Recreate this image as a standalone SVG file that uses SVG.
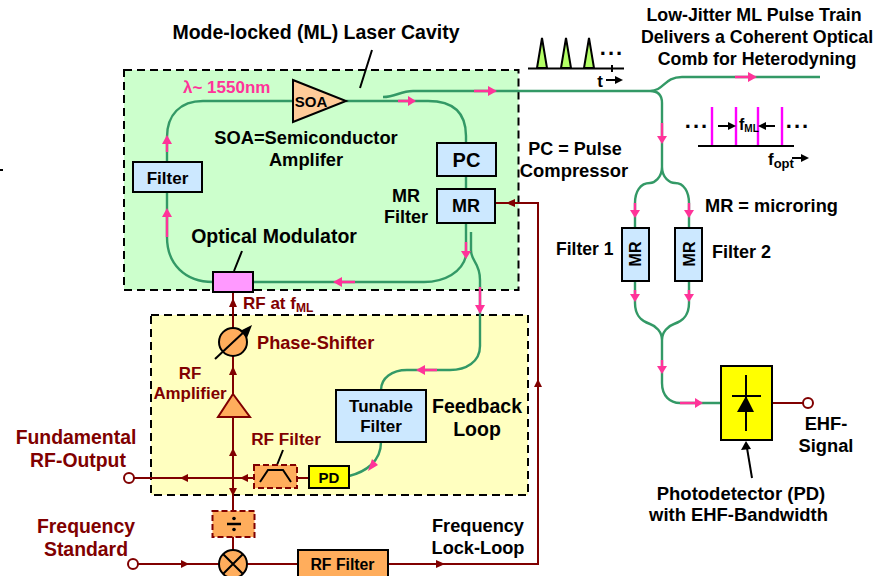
<svg xmlns="http://www.w3.org/2000/svg" width="877" height="576" viewBox="0 0 877 576">
<style>
text{font-family:"Liberation Sans",Arial,sans-serif;font-weight:bold;fill:#000}
.c{text-anchor:middle}
.r{fill:#800000}
.p{fill:#ff3399}
.fib{fill:none;stroke:#339966;stroke-width:2.4}
.rf{fill:none;stroke:#800000;stroke-width:2}
.pk{fill:none;stroke:#ff3399;stroke-width:2.4}
.pkh{fill:#ff3399}
.rfh{fill:#800000}
.blue{fill:#cce8ff;stroke:#000;stroke-width:2}
.or{fill:#ffad5c;stroke:#000;stroke-width:2}
.ordash{fill:#ffad5c;stroke:#800000;stroke-width:2;stroke-dasharray:6 3}
.bl{fill:none;stroke:#000;stroke-width:2}
.mg{stroke:#ff00ff;stroke-width:2.4}
</style>
<g id="backgrounds">
<rect id="cavity-box" x="124" y="70" width="394.500" height="220" fill="#ccffcc" stroke="#000" stroke-width="2" stroke-dasharray="8 5"/>
<rect id="feedback-box" x="151" y="315" width="377" height="180" fill="#ffffc0" stroke="#000" stroke-width="2" stroke-dasharray="8 5"/>
</g>
<g id="connectors">
<path class="fib" d="M167 162V137C167 115 180 101 203 101H293M346 101H428C452 101 466 112 466 136V143M466 176V189M466 223V256C462 272 445 282 424 282H253M213 282C185 282 167 264 167 237V192"/>
<path class="fib" d="M471 232V250C471 262 480 262 480 280V346C480 362 466 370 450 370H407C392 370 381 378 381 390M381 442C381 462 365 472 349 476"/>
<path class="fib" d="M383 97C396 97 400 91 413 91H650C664 91 664 77 682 77H820M650 91C658 91 662 95 662 103V167C662 178 654 183 650 183C640 183 635 192 635 203V228M662 167C662 178 670 183 675 183C684 183 689 192 689 203V228M635 281V303C635 318 644 322 650 324C656 326 662 332 662 340M689 281V303C689 318 680 322 674 324C668 326 662 332 662 340V383C662 396 670 403 680 403H721"/>
<g class="rf">
<path d="M233 272V328M233 356V394M233 417V511M233 537V550M134 478H254M297 478H309M138 564H219M247 564H298M388 564H538V203H495M772 403H803"/>
</g>
<g class="pk">
<path d="M398 101H412M474 91H490M735 77H750M662 123V138M635 203V212M689 203V212M635 290V297M689 290V297M662 360V368M680 403H697M167 152V141M167 237V214M355 282H339M466 242V252M480 287V308M437 370H422"/>
</g>
<g class="pkh">
<path d="M408 96L416 101L408 106ZM488 86L497 91L488 96ZM748 72L757 77L748 82ZM657 136L662 144L667 136ZM630 210L635 218L640 210ZM684 210L689 218L694 210ZM630 294L635 302L640 294ZM684 294L689 302L694 294ZM657 366L662 374L667 366ZM695 398L703 403L695 408ZM162 144L167 135L172 144ZM162 217L167 208L172 217ZM342 277L333 282L342 287ZM461 251L466 259L471 251ZM475 305L480 314L485 305ZM425 365L416 370L425 375ZM372 459L368 471L378 465Z"/>
</g>
<g class="rfh">
<path d="M229 307L233 298L237 307ZM229 375L233 366L237 375ZM229 456L233 448L237 456ZM229 488L233 496L237 488ZM188 474L180 478L188 482ZM248 474L240 478L248 482ZM181 560L189 564L181 568ZM436 560L445 564L436 568ZM534 387L538 379L542 387ZM515 199L506 203L515 207ZM748 399L756 403L748 407Z"/>
</g>
<path class="bl" d="M372 50L360 88M234 271L242 251M277 465L283 450"/>
<path class="bl" d="M752 478L747 448"/>
<path d="M741 450L746 441L751 449Z" fill="#000"/>
</g>
<g id="soa">
<path d="M293 80L346 101L293 122Z" fill="#ffcc99" stroke="#000" stroke-width="2"/>
<text x="311" y="107" class="c" font-size="15">SOA</text>
</g>
<g id="filter">
<rect class="blue" x="133" y="162" width="69" height="30"/>
<text x="167.500" y="184" class="c" font-size="17">Filter</text>
</g>
<g id="modulator">
<rect x="213" y="272" width="40" height="20" fill="#ff99ff" stroke="#000" stroke-width="2"/>
</g>
<g id="pc">
<rect class="blue" x="437" y="143" width="59" height="33"/>
<text x="466.500" y="167" class="c" font-size="20">PC</text>
</g>
<g id="mr">
<rect class="blue" x="437" y="189" width="58" height="34"/>
<text x="466" y="212" class="c" font-size="18">MR</text>
</g>
<g id="tunable-filter">
<rect class="blue" x="336" y="390" width="90" height="52"/>
<text x="381" y="412" class="c" font-size="17">Tunable</text>
<text x="381" y="432" class="c" font-size="17">Filter</text>
</g>
<g id="pd">
<rect x="309" y="466" width="40" height="22" fill="#ffff00" stroke="#000" stroke-width="2"/>
<text x="329" y="483" class="c" font-size="15">PD</text>
</g>
<g id="rf-filter-dashed">
<rect class="ordash" x="254" y="465" width="43" height="23"/>
<path class="bl" d="M260 482L268 470H283L291 482"/>
</g>
<g id="phase-shifter">
<circle class="or" cx="233" cy="342" r="14"/>
<path class="bl" d="M215 359L246 330"/>
<path d="M240 331L252 325L247 338Z" fill="#000"/>
</g>
<g id="rf-amplifier">
<path d="M233 394L250 417H218Z" fill="#ffad5c" stroke="#800000" stroke-width="2"/>
</g>
<g id="divider">
<rect class="ordash" x="212.500" y="511" width="42" height="26"/>
<path d="M227 524H241" stroke="#000" stroke-width="2.500"/>
<circle cx="234" cy="518.500" r="1.800"/>
<circle cx="234" cy="529.500" r="1.800"/>
</g>
<g id="mixer">
<circle class="or" cx="233" cy="564" r="14"/>
<path class="bl" d="M223 554L243 574M243 554L223 574"/>
</g>
<g id="rf-filter-bottom">
<rect class="or" x="298" y="550" width="90" height="30"/>
<text x="342.500" y="570" class="c" font-size="15.800">RF Filter</text>
</g>
<g id="mr1">
<rect class="blue" x="622" y="228" width="27" height="53"/>
<text transform="translate(641 254) rotate(-90)" class="c" font-size="16">MR</text>
</g>
<g id="mr2">
<rect class="blue" x="675" y="228" width="27" height="53"/>
<text transform="translate(695 254) rotate(-90)" class="c" font-size="16">MR</text>
</g>
<g id="photodetector">
<rect x="721" y="366" width="51" height="74" fill="#ffff00" stroke="#000" stroke-width="2"/>
<path class="bl" d="M746 375V431M732 396H761"/>
<path d="M746 396L754 412H737Z" fill="#000"/>
</g>
<g id="terminals" fill="#fff" stroke="#800000" stroke-width="2">
<circle cx="129" cy="478" r="5"/>
<circle cx="133" cy="564" r="5"/>
<circle cx="808" cy="403" r="5"/>
</g>
<g id="pulses">
<path d="M537 68L542 38L547 68ZM561 68L566 38L571 68ZM584 68L589 38L594 68Z" fill="#b3ff66" stroke="#000" stroke-width="2"/>
<path class="bl" d="M528 68.500H624M612 65V72"/>
<text x="612" y="55" class="c" font-size="22" letter-spacing="2">...</text>
<text x="600" y="87" class="c" font-size="17">t</text>
<path d="M606 80H617" stroke="#000" stroke-width="2"/>
<path d="M615 76L623 80L615 84Z"/>
</g>
<g id="comb">
<path class="mg" d="M712 107V146M736 107V146M758 107V146M782 107V146"/>
<path class="bl" d="M698 146H794"/>
<text x="697" y="128" class="c" font-size="22" letter-spacing="2">...</text>
<text x="798" y="128" class="c" font-size="22" letter-spacing="2">...</text>
<path d="M718 126H730M775 126H763" stroke="#000" stroke-width="2"/>
<path d="M728 122L736 126L728 130ZM766 122L758 126L766 130Z"/>
<text x="739" y="130" font-size="16">f<tspan font-size="10" dy="2">ML</tspan></text>
<text x="768" y="165" font-size="17">f<tspan font-size="13" dy="3">opt</tspan></text>
<path d="M792 158H803" stroke="#000" stroke-width="2"/>
<path d="M801 154L809 158L801 162Z"/>
</g>
<g id="labels">
<text x="316" y="39" class="c" font-size="19.500">Mode-locked (ML) Laser Cavity</text>
<text x="754" y="21" class="c" font-size="17.800">Low-Jitter ML Pulse Train</text>
<text x="757" y="43" class="c" font-size="17.800">Delivers a Coherent Optical</text>
<text x="757" y="65" class="c" font-size="17.800">Comb for Heterodyning</text>
<text x="183" y="93" class="p" font-size="17">λ~ 1550nm</text>
<text x="306" y="144" class="c" font-size="18.300">SOA=Semiconductor</text>
<text x="306" y="166" class="c" font-size="18.300">Amplifer</text>
<text x="274" y="243" class="c" font-size="19.500">Optical Modulator</text>
<text x="406" y="202" class="c" font-size="18">MR</text>
<text x="406" y="223" class="c" font-size="18">Filter</text>
<text x="575" y="155" class="c" font-size="18">PC = Pulse</text>
<text x="574" y="177" class="c" font-size="18.400">Compressor</text>
<text x="705" y="212" font-size="18.200">MR = microring</text>
<text x="556" y="255" font-size="17.500">Filter 1</text>
<text x="712" y="258" font-size="18">Filter 2</text>
<text x="826" y="430" class="c" font-size="18.300">EHF-</text>
<text x="826" y="452" class="c" font-size="18.300">Signal</text>
<text x="741" y="500" class="c" font-size="18.500">Photodetector (PD)</text>
<text x="738.500" y="521" class="c" font-size="18.400">with EHF-Bandwidth</text>
<text x="477" y="413" class="c" font-size="19.500">Feedback</text>
<text x="477" y="436" class="c" font-size="19.500">Loop</text>
<text x="478" y="532" class="c" font-size="18.200">Frequency</text>
<text x="478" y="554" class="c" font-size="18.200">Lock-Loop</text>
<text x="243" y="309" class="r" font-size="17">RF at f<tspan font-size="12" dy="3">ML</tspan></text>
<text x="257" y="349" class="r" font-size="18.200">Phase-Shifter</text>
<text x="190" y="379" class="c r" font-size="16.900">RF</text>
<text x="190" y="399" class="c r" font-size="16.900">Amplifier</text>
<text x="286" y="445" class="c r" font-size="17.200">RF Filter</text>
<text x="76" y="444" class="c r" font-size="19.400">Fundamental</text>
<text x="78" y="467" class="c r" font-size="19.400">RF-Output</text>
<text x="86" y="533" class="c r" font-size="19.400">Frequency</text>
<text x="86" y="556" class="c r" font-size="19.400">Standard</text>
</g>
<path id="edge-mark" d="M0 170H3" stroke="#000" stroke-width="2"/>
</svg>
